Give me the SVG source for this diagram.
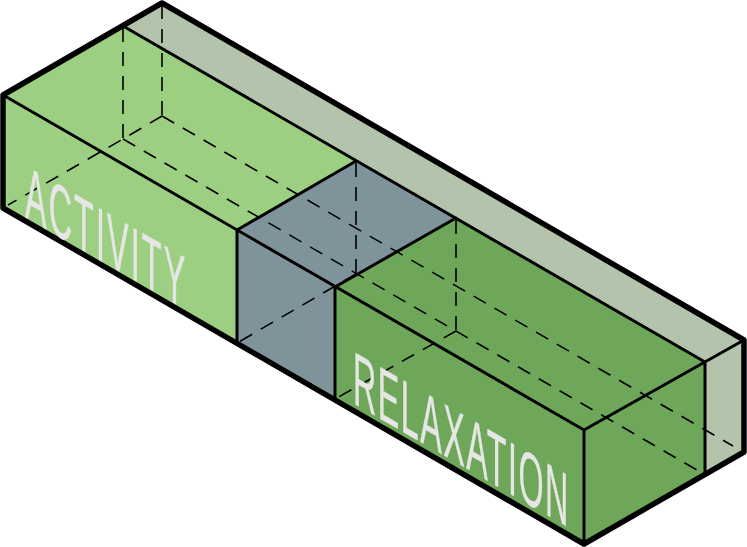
<svg xmlns="http://www.w3.org/2000/svg" width="747" height="547" viewBox="0 0 747 547">
<style>
.thin{fill:none;stroke:#000;stroke-width:3;stroke-linecap:round}
.dash{fill:none;stroke:#000;stroke-width:1.6;stroke-dasharray:14 10}
.outer{fill:none;stroke:#000;stroke-width:5.5;stroke-linejoin:round}
.label{font-family:"Liberation Sans",Arial,sans-serif;font-size:75px;fill:#e6e7e5;stroke:#e6e7e5;stroke-width:.4}
</style>
<rect width="747" height="547" fill="#fff"/>
<g id="volume"><path d="M3 95L162 3L744 340V452L584 544L3 208Z" fill="#b4c4ac"/></g>
<g id="activity">
<path d="M3 95L123 26L356 161L237 230V343L3 208Z" fill="#9ccf82"/>
</g>
<g id="transition"><path d="M237 230L356 161L456 218L335 287V399L237 343Z" fill="#7f949a"/></g>
<g id="relaxation">
<path d="M335 287L456 218L705 362V472L584 544L335 399Z" fill="#6fa75a"/>
</g>
<g id="connectors">
<path class="dash" d="M123 28V139M162 5V116M356 163V274M456 220V331"/>
<path class="dash" d="M162 116L733 446M123 139L697 470M162 116L123 139L8 205M356 274L237 343M456 331L335 399"/>
<path class="thin" d="M3 95L584 430M123 26L705 362M237 230L356 161M335 287L456 218M584 430L744 340M237 230V343M335 287V399M584 430V544M705 362V472"/>
<path class="outer" d="M3 95L162 3L744 340V452L584 544L3 208Z"/>
</g>
<g id="labels">
<text class="label" letter-spacing="5" transform="matrix(.43 .248 0 1 25 217)">ACTIVITY</text>
<text class="label" letter-spacing="3.5" transform="matrix(.43 .248 0 1 353 403)">RELAXATION</text>
</g>
</svg>
